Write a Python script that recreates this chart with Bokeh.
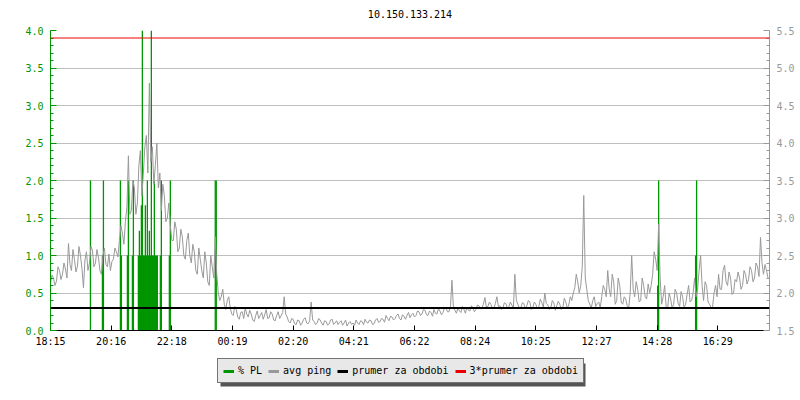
from bokeh.plotting import figure
from bokeh.layouts import column
from bokeh.models import (Range1d, LinearAxis, SingleIntervalTicker, FixedTicker, Label,
                          Span, Legend, LegendItem, NumeralTickFormatter, BoxAnnotation)
from bokeh.embed import file_html
from bokeh.resources import INLINE

TITLE = "10.150.133.214"
FONT = "DejaVu Sans Mono"

# x axis: minutes since 18:15
X_TICK_MIN = [0, 121.5, 243, 364.5, 486, 607.5, 729, 850.5, 972, 1093.5, 1215, 1336.5]
X_TICK_LABELS = ["18:15", "20:16", "22:18", "00:19", "02:20", "04:21",
                 "06:22", "08:24", "10:25", "12:27", "14:28", "16:29"]

# packet loss (% PL), minute offsets and values
PL_T = [80, 104, 106, 140, 142, 154, 156, 164, 166, 176, 178, 180, 182, 184,
        186, 188, 190, 192, 194, 196, 198, 200, 202, 204, 206, 208, 210, 212, 214,
        220, 222, 238, 240, 330, 332, 1216, 1218, 1292, 1294]
PL_V = [2.0, 1.0, 2.0, 2.0, 1.0, 1.0, 2.0, 1.0, 2.0, 1.0, 1.33, 1.0, 1.67, 4.0,
        1.0, 1.0, 1.67, 1.0, 2.0, 1.0, 1.33, 1.0, 4.0, 1.0, 1.0, 2.0, 1.0, 1.0, 1.0,
        1.0, 2.0, 1.0, 2.0, 2.0, 2.0, 0.6, 2.0, 1.0, 2.0]

# average ping (ms), one sample every 3 minutes
PING_STEP = 3
PING = [2.13, 2.24, 2.20, 2.10, 2.16, 2.35, 2.30, 2.18, 2.25, 2.40,
        2.32, 2.20, 2.66, 2.38, 2.30, 2.58, 2.45, 2.28, 2.36, 2.62, 2.50, 2.33, 2.07, 2.44, 2.55, 2.30, 2.40, 2.62,
        2.57, 2.35, 2.40, 2.58, 2.48, 2.30, 2.25, 2.50, 2.60, 2.38, 2.35, 2.52, 2.30, 2.42, 2.45, 2.60, 2.55, 2.48,
        2.70, 2.90, 2.80, 2.65, 2.95, 3.15, 3.83, 3.05,
        3.10, 3.50, 3.40, 3.05, 3.20, 3.70, 3.90, 3.30, 3.60, 3.95, 4.10, 3.60, 4.80, 3.75,
        3.95, 3.45, 3.70, 4.00, 3.40, 3.60, 3.10, 3.45, 3.30, 2.95, 3.00, 3.20, 2.90, 2.70,
        2.70, 2.95, 2.85, 2.55, 2.60, 2.85, 2.75, 2.50, 2.45, 2.70, 2.80, 2.50, 2.40, 2.65, 2.55, 2.30, 2.25, 2.60, 2.45, 2.30,
        2.20, 2.55, 2.40, 2.15, 2.10, 2.50, 2.35, 2.20, 2.75, 2.25, 2.00, 1.90, 1.95, 2.05, 1.85, 1.78, 1.90, 1.95, 1.80, 1.72,
        1.70, 1.82, 1.78, 1.68, 1.65, 1.74, 1.75, 1.66, 1.80, 1.72, 1.68, 1.77, 1.72, 1.64, 1.62, 1.70, 1.76, 1.66,
        1.70, 1.74, 1.65, 1.71, 1.78, 1.66, 1.67, 1.75, 1.72, 1.64, 1.63, 1.70, 1.75, 1.66, 1.70, 1.74,
        1.95, 1.72, 1.68, 1.62,
        1.60, 1.66, 1.65, 1.59, 1.58, 1.64, 1.63, 1.57, 1.60, 1.65, 1.67, 1.60, 1.59, 1.63, 1.88, 1.64, 1.62, 1.58,
        1.60, 1.66, 1.64, 1.60, 1.57, 1.63, 1.62, 1.57, 1.59, 1.64, 1.65, 1.58, 1.60, 1.63, 1.58, 1.61, 1.63, 1.57,
        1.60, 1.64, 1.56, 1.60, 1.62, 1.58,
        1.60, 1.57, 1.64, 1.60, 1.58, 1.63, 1.62, 1.58, 1.65, 1.61, 1.60, 1.64, 1.63, 1.58, 1.59, 1.64, 1.66, 1.61,
        1.62, 1.66,
        1.65, 1.61, 1.70, 1.66, 1.63, 1.69, 1.68, 1.64, 1.66, 1.70, 1.72, 1.66, 1.64, 1.71, 1.69, 1.65, 1.70, 1.74,
        1.67, 1.71, 1.73, 1.68,
        1.70, 1.76, 1.75, 1.70, 1.72, 1.78, 1.77, 1.71, 1.70, 1.76, 1.74, 1.69, 1.78, 1.73, 1.72, 1.79, 1.76, 1.71,
        1.74, 1.80, 1.80, 1.75,
        1.75, 1.82, 2.17, 1.80, 1.77, 1.73,
        1.80, 1.76, 1.74, 1.82, 1.78, 1.73, 1.81, 1.77, 1.76, 1.83, 1.80, 1.75, 1.78, 1.84, 1.83, 1.79,
        1.80, 1.85, 1.94, 1.81, 1.82, 1.88, 1.85, 1.79, 1.80, 1.86, 1.95, 1.82, 1.83, 1.78, 1.80, 1.87, 1.86, 1.80,
        1.82, 1.88, 1.84, 1.79,
        2.25, 1.90, 1.85, 1.80,
        1.80, 1.87, 1.86, 1.79, 1.83, 1.90, 1.88, 1.78, 1.80, 1.88, 1.85, 1.79, 1.82, 1.92, 1.87, 1.81,
        2.00, 1.86,
        1.84, 1.78, 1.80, 1.90, 1.87, 1.77, 1.83, 1.89, 1.85, 1.78, 1.80, 1.93, 1.88, 1.80, 1.84, 1.95, 1.90, 2.00,
        2.07, 2.25,
        2.15, 2.00, 2.10, 2.35, 3.30, 2.20, 2.05, 1.90,
        1.85, 1.80, 1.90, 1.95, 1.82, 1.86, 1.88, 1.80, 1.95, 2.10,
        2.05, 1.95, 2.30, 2.05, 1.95, 2.25, 2.15, 1.85, 1.90, 2.20, 2.10, 1.88,
        1.85, 1.95, 1.92, 1.83, 1.80, 2.00, 2.50, 2.05,
        1.95, 2.15, 2.05, 1.88, 1.90, 2.20, 2.10, 1.95, 1.92, 2.12, 2.00, 2.10,
        2.25, 2.55, 2.45, 2.30, 2.92, 2.20,
        1.85, 1.95, 2.10, 1.82, 1.80, 2.00, 1.92, 1.80, 1.85, 2.05, 2.00, 1.86, 1.82, 2.02, 1.95, 1.80, 1.85, 1.98,
        2.10, 1.88, 1.90, 2.00,
        2.20, 1.95, 2.05, 2.30, 2.50, 2.10, 1.90, 2.15, 2.10, 1.88,
        1.85, 1.80, 1.82, 2.00,
        2.10, 1.95, 2.25, 2.05, 2.05, 2.30, 2.37, 2.15, 2.10, 2.28, 2.20, 1.98, 2.00, 2.18,
        2.15, 2.28, 2.20, 2.05, 2.10, 2.30, 2.25, 2.12, 2.18, 2.35, 2.30, 2.15, 2.20, 2.40,
        2.35, 2.22, 2.74, 2.40, 2.25, 2.38, 2.30, 2.20]
PING_T = [i * PING_STEP for i in range(len(PING))]

PRUMER = 1.8          # mean ping over period (ms)
PRUMER3 = 5.4         # 3 * mean

LEGEND_LABELS = ["% PL", "avg ping", "prumer za obdobi", "3*prumer za obdobi"]
GREEN = "#009600"
GREY = "#999999"
RED = "#ee0000"

BORDERS = dict(min_border_left=50, min_border_right=31)


def strip(height, x_end, y_end):
    f = figure(width=800, height=height, output_backend="svg", toolbar_location=None,
               x_range=Range1d(0, x_end), y_range=Range1d(0, y_end),
               min_border_top=0, min_border_bottom=0,
               x_axis_location=None, y_axis_location=None, **BORDERS)
    f.outline_line_color = None
    f.xgrid.visible = False
    f.ygrid.visible = False
    f.background_fill_color = "white"
    f.border_fill_color = "white"
    return f


# title strip (frame aligned with the chart frame: 719 px wide)
t = strip(26, 719, 26)
t.add_layout(Label(x=359.5, y=12.5, text=TITLE, text_align="center", text_baseline="middle",
                   text_font=FONT, text_font_size="10px", text_color="black"))

p = figure(width=800, height=324, output_backend="svg", toolbar_location=None,
           x_range=Range1d(0, 1440), y_range=Range1d(0, 4),
           min_border_top=4, min_border_bottom=20, **BORDERS)
p.extra_y_ranges = {"ping": Range1d(1.5, 5.5)}
p.outline_line_color = None
p.background_fill_color = "white"
p.border_fill_color = "white"

# axes
xa = p.xaxis[0]
xa.ticker = FixedTicker(ticks=X_TICK_MIN, minor_ticks=[])
xa.major_label_overrides = {t_: l for t_, l in zip(X_TICK_MIN, X_TICK_LABELS)}
xa.major_tick_in = 5
xa.major_tick_out = 0
xa.minor_tick_in = 0
xa.minor_tick_out = 0
xa.axis_line_color = "black"
xa.major_tick_line_color = "black"
xa.major_label_text_font = FONT
xa.major_label_text_font_size = "10px"
xa.major_label_text_color = "black"
xa.major_label_standoff = 5

ya = p.yaxis[0]
ya.ticker = SingleIntervalTicker(interval=0.5, num_minor_ticks=5)
ya.formatter = NumeralTickFormatter(format="0.0")
ya.major_tick_in = 6
ya.major_tick_out = 0
ya.minor_tick_in = 3
ya.minor_tick_out = 0
ya.axis_line_color = GREEN
ya.major_tick_line_color = GREEN
ya.minor_tick_line_color = GREEN
ya.major_label_text_color = GREEN
ya.major_label_text_font = FONT
ya.major_label_text_font_size = "10px"
ya.major_label_standoff = 7

ra = LinearAxis(y_range_name="ping",
                ticker=SingleIntervalTicker(interval=0.5, num_minor_ticks=5),
                formatter=NumeralTickFormatter(format="0.0"))
ra.major_tick_in = 6
ra.major_tick_out = 0
ra.minor_tick_in = 3
ra.minor_tick_out = 0
ra.axis_line_color = GREY
ra.major_tick_line_color = GREY
ra.minor_tick_line_color = GREY
ra.major_label_text_color = GREY
ra.major_label_text_font = FONT
ra.major_label_text_font_size = "10px"
ra.major_label_standoff = 7
p.add_layout(ra, "right")

p.xgrid.visible = False
p.ygrid.grid_line_color = "#bebebe"
p.ygrid.grid_line_width = 1

# data
p.segment(x0=PL_T, y0=[0] * len(PL_T), x1=PL_T, y1=PL_V, line_color=GREEN, line_width=1.3)
p.line(x=PING_T, y=PING, y_range_name="ping", line_color=GREY, line_width=1)

p.add_layout(Span(location=PRUMER, dimension="width", y_range_name="ping",
                  line_color="black", line_width=2))
p.add_layout(Span(location=PRUMER3, dimension="width", y_range_name="ping",
                  line_color=RED, line_width=1))

# legend strip below the chart
q = strip(50, 719, 50)

NAN = float("nan")
colors = [GREEN, GREY, "black", RED]
leg_r = [q.line(x=[NAN], y=[NAN], line_color=c, line_width=3) for c in colors]

# drop shadow behind the legend box
q.add_layout(BoxAnnotation(left=170, right=535, bottom=14, top=37,
                           fill_color="#555555", fill_alpha=1, line_color=None,
                           level="annotation"))

legend = Legend(items=[LegendItem(label=l, renderers=[r]) for l, r in zip(LEGEND_LABELS, leg_r)],
                location=(167, 17), orientation="horizontal",
                label_text_font=FONT, label_text_font_size="10px",
                padding=5, spacing=6, label_standoff=4, glyph_width=11, glyph_height=10,
                label_height=13, margin=0,
                background_fill_color="#e8e8e8", background_fill_alpha=1,
                border_line_color="black", border_line_width=1, label_text_color="black")
q.add_layout(legend, "center")

layout = column(t, p, q, spacing=0)
open("out.html", "w").write(file_html(layout, INLINE))
